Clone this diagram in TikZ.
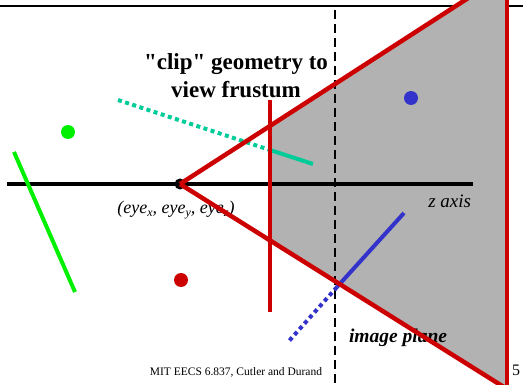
\documentclass[tikz,border=0pt]{standalone}
\usepackage{fontspec}
\setmainfont{Liberation Serif}[Ligatures=TeXOff]
\usepackage{tikz}
\usetikzlibrary{calc}

\definecolor{frustred}{RGB}{204,0,0}
\definecolor{ptgreen}{RGB}{0,240,0}
\definecolor{ptteal}{RGB}{0,204,153}
\definecolor{ptblue}{RGB}{51,51,204}
\newcommand{\eyesub}[1]{\raisebox{-0.45ex}{\fontsize{12}{12}\selectfont #1}}

\begin{document}
\begin{tikzpicture}[x=1pt, y=-1pt, line width=4pt,
    dotline/.style={dash pattern=on 4pt off 3.5pt},
    dot/.style={radius=7},
    edge/.style={frustred, line width=4.5pt}]
  \useasboundingbox (0,0) rectangle (523,385);
  \clip (0,0) rectangle (523,385);
  \coordinate (eye) at (180,184);
  \coordinate (top) at (507,-27);
  \coordinate (bot) at (507,389);
  \coordinate (neart) at ($(eye)!0.2752!(top)$);
  \coordinate (nearb) at ($(eye)!0.2752!(bot)$);
  \draw[line width=2pt] (0,6) -- (523,6);
  % view frustum
  \fill[black!30] (neart) -- (top) -- (bot) -- (nearb) -- cycle;
  \draw[line width=2pt, dash pattern=on 9pt off 5pt] (335,10) -- (335,385);
  \draw (7,184) -- (473,184);
  % points and segments
  \fill[ptgreen] (68,132) circle[dot];
  \fill[frustred] (181,280) circle[dot];
  \fill[ptblue] (411,98) circle[dot];
  \draw[ptgreen] (14,152) -- (75,292);
  \draw[ptteal, dotline] (118,100) -- (270,150);
  \draw[ptteal] (270,150) -- (313,164);
  \draw[ptblue] (404,213) -- (337,287);
  \draw[ptblue, dotline] (337,287) -- (289,341);
  % labels
  \node[font=\bfseries\fontsize{23}{28}\selectfont, align=center] (title) at (236,76) {"clip" geometry to\\view frustum};
  \node[font=\itshape\fontsize{18}{20}\selectfont] (eyelbl) at (176,210) {(eye\eyesub{x}, eye\eyesub{y}, eye\eyesub{z})};
  \node[font=\itshape\fontsize{19}{21}\selectfont, anchor=east, inner sep=0pt] (zlbl) at (473,201) {z axis};
  \node[font=\bfseries\itshape\fontsize{19.5}{22}\selectfont, anchor=west, inner sep=0pt] (planelbl) at (347,338) {image plane};
  \node[font=\fontsize{11.5}{13}\selectfont] (foot) at (236,372) {MIT EECS 6.837, Cutler and Durand};
  \node[font=\fontsize{16}{18}\selectfont, anchor=west, inner sep=0pt] (pagenum) at (510,370) {5};
  % frustum edges
  \fill (eye) circle[radius=5.5];
  \draw[edge] (eye) -- (top);
  \draw[edge] (eye) -- (bot);
  \draw[edge] (270,100) -- (270,312);
  \draw[edge] (507,-5) -- (507,390);
\end{tikzpicture}
\end{document}
